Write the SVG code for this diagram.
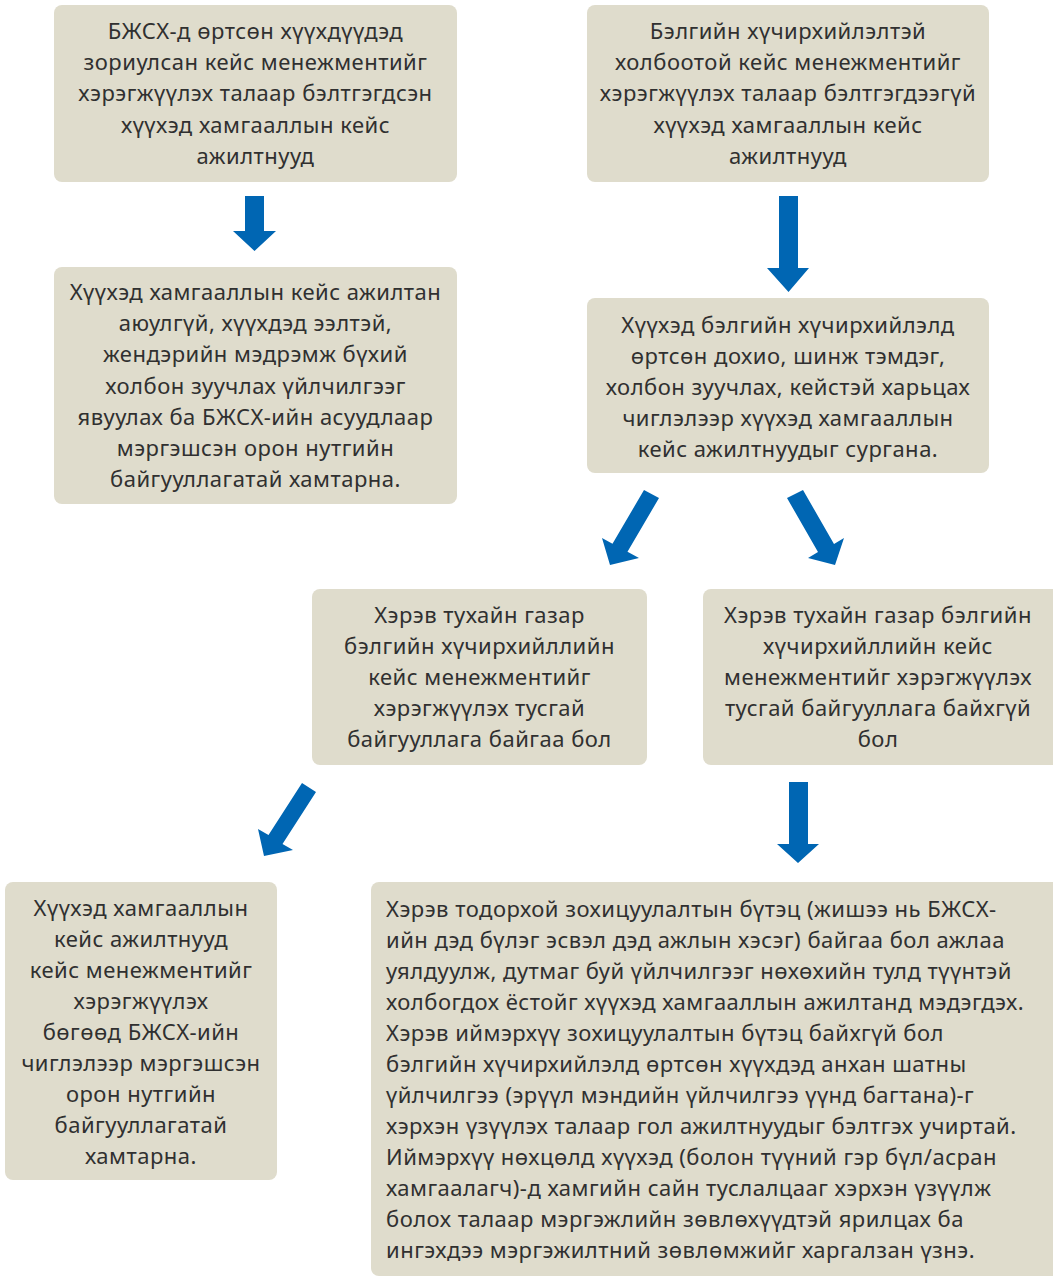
<svg xmlns="http://www.w3.org/2000/svg" width="1053" height="1277" viewBox="0 0 1053 1277">
<style>
.box{fill:#dfdccc;}
.t{font-family:"Noto Sans","Open Sans","DejaVu Sans",sans-serif;font-size:22px;letter-spacing:0.5px;fill:#303030;}
.c{text-anchor:middle;}
.arr{fill:#0066b3;}
</style>
<rect width="1053" height="1277" fill="#ffffff"/>
<g id="connectors">
<polygon class="arr" points="245,196 264,196 264,231 276,231 254.5,251 233,231 245,231"/>
<polygon class="arr" points="779,196 798,196 798,268 809,268 788.5,292 767,268 779,268"/>
<polygon class="arr" points="644,490 659,498 627.5,551.8 639,558 610,565 602,538 612.5,543.8"/>
<polygon class="arr" points="787,498 803,490 834,544 844,538 835,565 808,558 818,552"/>
<polygon class="arr" points="302,783 316,792 282.5,844 293,850 264,856 258,829 268.5,835"/>
<polygon class="arr" points="789,782 808,782 808,844 819,844 798,863 777,844 789,844"/>
</g>
<g id="n1">
<rect class="box" x="54" y="5" width="403" height="177" rx="8"/>
<text class="t c"><tspan x="255.5" y="39">БЖСХ-д өртсөн хүүхдүүдэд</tspan><tspan x="255.5" y="70.2">зориулсан кейс менежментийг</tspan><tspan x="255.5" y="101.4">хэрэгжүүлэх талаар бэлтгэгдсэн</tspan><tspan x="255.5" y="132.6">хүүхэд хамгааллын кейс</tspan><tspan x="255.5" y="163.8">ажилтнууд</tspan></text>
</g>
<g id="n2">
<rect class="box" x="587" y="5" width="402" height="177" rx="8"/>
<text class="t c"><tspan x="788" y="39">Бэлгийн хүчирхийлэлтэй</tspan><tspan x="788" y="70.2">холбоотой кейс менежментийг</tspan><tspan x="788" y="101.4">хэрэгжүүлэх талаар бэлтгэгдээгүй</tspan><tspan x="788" y="132.6">хүүхэд хамгааллын кейс</tspan><tspan x="788" y="163.8">ажилтнууд</tspan></text>
</g>
<g id="n3">
<rect class="box" x="54" y="267" width="403" height="237" rx="8"/>
<text class="t c"><tspan x="255.5" y="300">Хүүхэд хамгааллын кейс ажилтан</tspan><tspan x="255.5" y="331.2">аюулгүй, хүүхдэд ээлтэй,</tspan><tspan x="255.5" y="362.4">жендэрийн мэдрэмж бүхий</tspan><tspan x="255.5" y="393.6">холбон зуучлах үйлчилгээг</tspan><tspan x="255.5" y="424.8">явуулах ба БЖСХ-ийн асуудлаар</tspan><tspan x="255.5" y="456">мэргэшсэн орон нутгийн</tspan><tspan x="255.5" y="487.2">байгууллагатай хамтарна.</tspan></text>
</g>
<g id="n4">
<rect class="box" x="587" y="298" width="402" height="175" rx="8"/>
<text class="t c"><tspan x="788" y="333">Хүүхэд бэлгийн хүчирхийлэлд</tspan><tspan x="788" y="364">өртсөн дохио, шинж тэмдэг,</tspan><tspan x="788" y="395">холбон зуучлах, кейстэй харьцах</tspan><tspan x="788" y="426">чиглэлээр хүүхэд хамгааллын</tspan><tspan x="788" y="457">кейс ажилтнуудыг сургана.</tspan></text>
</g>
<g id="n5">
<rect class="box" x="312" y="589" width="335" height="176" rx="8"/>
<text class="t c"><tspan x="479.5" y="623">Хэрэв тухайн газар</tspan><tspan x="479.5" y="654">бэлгийн хүчирхийллийн</tspan><tspan x="479.5" y="685">кейс менежментийг</tspan><tspan x="479.5" y="716">хэрэгжүүлэх тусгай</tspan><tspan x="479.5" y="747">байгууллага байгаа бол</tspan></text>
</g>
<g id="n6">
<rect class="box" x="703" y="589" width="358" height="176" rx="8"/>
<text class="t c"><tspan x="878" y="623">Хэрэв тухайн газар бэлгийн</tspan><tspan x="878" y="654">хүчирхийллийн кейс</tspan><tspan x="878" y="685">менежментийг хэрэгжүүлэх</tspan><tspan x="878" y="716">тусгай байгууллага байхгүй</tspan><tspan x="878" y="747">бол</tspan></text>
</g>
<g id="n7">
<rect class="box" x="5" y="882" width="272" height="298" rx="8"/>
<text class="t c"><tspan x="141" y="916">Хүүхэд хамгааллын</tspan><tspan x="141" y="947">кейс ажилтнууд</tspan><tspan x="141" y="978">кейс менежментийг</tspan><tspan x="141" y="1009">хэрэгжүүлэх</tspan><tspan x="141" y="1040">бөгөөд БЖСХ-ийн</tspan><tspan x="141" y="1071">чиглэлээр мэргэшсэн</tspan><tspan x="141" y="1102">орон нутгийн</tspan><tspan x="141" y="1133">байгууллагатай</tspan><tspan x="141" y="1164">хамтарна.</tspan></text>
</g>
<g id="n8">
<rect class="box" x="371" y="882" width="690" height="394" rx="8"/>
<text class="t"><tspan x="386" y="917">Хэрэв тодорхой зохицуулалтын бүтэц (жишээ нь БЖСХ-</tspan><tspan x="386" y="948">ийн дэд бүлэг эсвэл дэд ажлын хэсэг) байгаа бол ажлаа</tspan><tspan x="386" y="979">уялдуулж, дутмаг буй үйлчилгээг нөхөхийн тулд түүнтэй</tspan><tspan x="386" y="1010">холбогдох ёстойг хүүхэд хамгааллын ажилтанд мэдэгдэх.</tspan><tspan x="386" y="1041">Хэрэв иймэрхүү зохицуулалтын бүтэц байхгүй бол</tspan><tspan x="386" y="1072">бэлгийн хүчирхийлэлд өртсөн хүүхдэд анхан шатны</tspan><tspan x="386" y="1103">үйлчилгээ (эрүүл мэндийн үйлчилгээ үүнд багтана)-г</tspan><tspan x="386" y="1134">хэрхэн үзүүлэх талаар гол ажилтнуудыг бэлтгэх учиртай.</tspan><tspan x="386" y="1165">Иймэрхүү нөхцөлд хүүхэд (болон түүний гэр бүл/асран</tspan><tspan x="386" y="1196">хамгаалагч)-д хамгийн сайн туслалцааг хэрхэн үзүүлж</tspan><tspan x="386" y="1227">болох талаар мэргэжлийн зөвлөхүүдтэй ярилцах ба</tspan><tspan x="386" y="1258">ингэхдээ мэргэжилтний зөвлөмжийг харгалзан үзнэ.</tspan></text>
</g>
</svg>
